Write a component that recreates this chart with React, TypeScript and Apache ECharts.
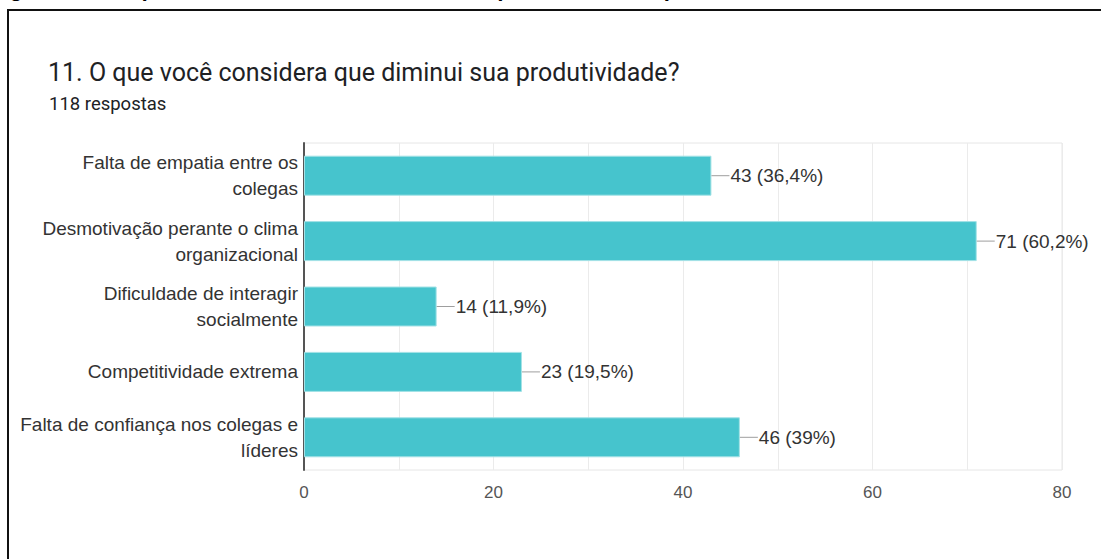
import React, { useEffect, useRef } from "react";
import * as echarts from "echarts";

const categories = [
  "Falta de empatia entre os\ncolegas",
  "Desmotivação perante o clima\norganizacional",
  "Dificuldade de interagir\nsocialmente",
  "Competitividade extrema",
  "Falta de confiança nos colegas e\nlíderes",
];
const counts = [43, 71, 14, 23, 46];
const percents = ["36,4%", "60,2%", "11,9%", "19,5%", "39%"];
const xTicks = [0, 20, 40, 60, 80];

const titleText = "11. O que você considera que diminui sua produtividade?";
const subText = "118 respostas";
const captionText = "Figura 11 – O que os entrevistados consideram que diminui sua produtividade laboral";

export default function App() {
  const ref = useRef<HTMLDivElement>(null);
  useEffect(() => {
    document.body.style.margin = "0";
    const chart = echarts.init(ref.current!, undefined, { renderer: "svg" });
    chart.setOption({
      animation: false,
      backgroundColor: "#ffffff",
      title: [
        {
          text: titleText,
          left: 43,
          top: 55,
          textStyle: { fontFamily: "Roboto", fontSize: 25, fontWeight: "normal", color: "#202124" },
        },
        {
          text: subText,
          left: 44,
          top: 89,
          textStyle: { fontFamily: "Roboto", fontSize: 18.5, fontWeight: "normal", color: "#202124" },
        },
      ],
      graphic: [
        {
          type: "rect",
          shape: { x: 8, y: 10, width: 1200, height: 700 },
          style: { fill: "none", stroke: "#111", lineWidth: 2 },
          silent: true,
        },
        {
          type: "text",
          x: -10,
          y: -1,
          style: {
            text: captionText,
            fontFamily: "Arial, Liberation Sans",
            fontWeight: "bold",
            fontSize: 22,
            fill: "#000",
            verticalAlign: "bottom",
          },
          silent: true,
        },
      ],
      grid: {
        left: 304,
        right: 39,
        top: 143,
        bottom: 89,
        show: true,
        borderColor: "#e6e6e6",
        borderWidth: 1,
      },
      xAxis: {
        type: "value",
        min: 0,
        max: 80,
        interval: 10,
        axisLine: { show: false },
        axisTick: { show: false },
        splitLine: { lineStyle: { color: "#ebebeb", width: 1 } },
        axisLabel: {
          margin: 14,
          fontFamily: "Arial, Liberation Sans",
          fontSize: 17,
          color: "#555",
          formatter: (v: number) => (xTicks.includes(v) ? String(v) : ""),
        },
      },
      yAxis: {
        type: "category",
        inverse: true,
        data: categories,
        axisLine: { show: true, lineStyle: { color: "#555", width: 2 } },
        axisTick: { show: false },
        axisLabel: {
          margin: 6,
          fontFamily: "Arial, Liberation Sans",
          fontSize: 19,
          lineHeight: 26,
          color: "#333",
          align: "right",
        },
      },
      series: [
        {
          type: "bar",
          data: counts,
          barWidth: 40,
          itemStyle: { color: "#46c4cd", borderColor: "#a3e2e6", borderWidth: 1 },
          label: {
            show: true,
            position: "right",
            distance: 0,
            formatter: (p: any) => `{l|}{t|${counts[p.dataIndex]} (${percents[p.dataIndex]})}`,
            rich: {
              l: { width: 18, height: 1, backgroundColor: "#9e9e9e" },
              t: { fontFamily: "Arial, Liberation Sans", fontSize: 19, color: "#333", padding: [0, 0, 0, 1] },
            },
          },
        },
      ],
    });
    return () => chart.dispose();
  }, []);
  return <div ref={ref} style={{ width: 1101, height: 559 }} />;
}
